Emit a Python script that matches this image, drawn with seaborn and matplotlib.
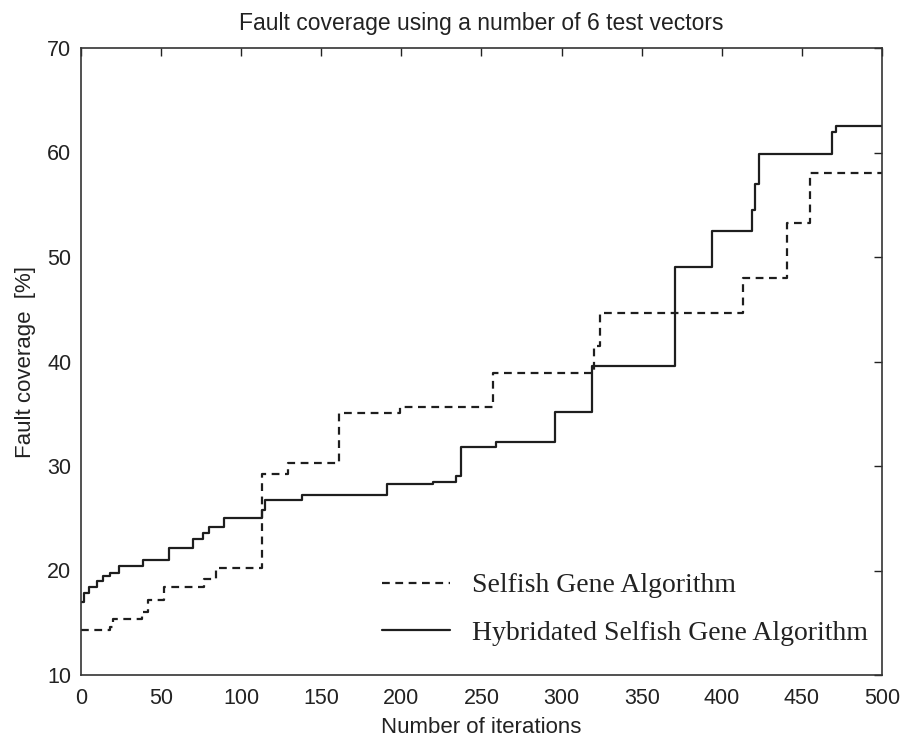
import matplotlib
matplotlib.use("Agg")
import matplotlib.pyplot as plt
import seaborn as sns
import pandas as pd

# Data (step change points)
hybrid_x = [0, 2, 5, 10, 14, 18, 24, 39, 55, 70, 76, 80, 89, 113, 115, 138, 191, 220, 234,
            237, 259, 296, 319, 371, 394, 419, 421, 423, 469, 471, 500]
hybrid_y = [17.0, 17.8, 18.4, 19.0, 19.5, 19.8, 20.4, 21.0, 22.2, 23.0, 23.6, 24.2, 25.0, 25.8,
            26.7, 27.2, 28.3, 28.5, 29.0, 31.8, 32.3, 35.2, 39.6, 49.0, 52.5, 54.5, 57.0, 59.9,
            62.0, 62.5, 62.5]

selfish_x = [0, 18, 20, 38, 42, 52, 77, 84, 113, 129, 161, 199, 257, 320, 324, 413, 441, 455, 500]
selfish_y = [14.3, 14.6, 15.4, 16.0, 17.2, 18.4, 19.2, 20.2, 29.2, 30.3, 35.1, 35.6, 38.9,
             41.5, 44.6, 48.0, 53.3, 58.0, 58.0]

labels = ["Selfish Gene Algorithm", "Hybridated Selfish Gene Algorithm"]
title = "Fault coverage using a number of 6 test vectors"
xlabel = "Number of iterations"
ylabel = "Fault coverage  [%]"
xticks = list(range(0, 501, 50))
yticks = list(range(10, 71, 10))

df = pd.concat([
    pd.DataFrame({"iter": selfish_x, "cov": selfish_y, "alg": labels[0]}),
    pd.DataFrame({"iter": hybrid_x, "cov": hybrid_y, "alg": labels[1]}),
], ignore_index=True)

sns.set_theme(style="white")
plt.rcParams["font.family"] = ["Liberation Sans", "DejaVu Sans"]

fig = plt.figure(figsize=(9.04, 7.40), dpi=100)
ax = fig.add_axes([81 / 904, 1 - 675 / 740, (882 - 81) / 904, (675 - 48) / 740])

sns.lineplot(data=df, x="iter", y="cov", style="alg", style_order=labels,
             dashes={labels[0]: (3.5, 2.5), labels[1]: ""},
             color="#1e1e1e", linewidth=1.6, drawstyle="steps-post",
             estimator=None, sort=True, ax=ax)

ax.set_xlim(0, 500)
ax.set_ylim(10, 70)
ax.set_xticks(xticks)
ax.set_yticks(yticks)
ax.tick_params(direction="in", top=True, right=True, length=6, width=1,
               labelsize=15.5, colors="#222222", pad=7)
ax.tick_params(axis="x", pad=9)
for s in ax.spines.values():
    s.set_visible(True)
    s.set_color("#333333")
    s.set_linewidth(1.2)
ax.set_xlabel(xlabel, fontsize=16, color="#222222", labelpad=6)
ax.set_ylabel(ylabel, fontsize=16, color="#222222", labelpad=8)
ax.set_title(title, fontsize=16.5, color="#222222", pad=13)

handles, labs = ax.get_legend_handles_labels()
hmap = dict(zip(labs, handles))
leg = ax.legend([hmap[l] for l in labels], labels, loc="upper left",
                bbox_to_anchor=(382 / 904, 1 - 573 / 740), bbox_transform=fig.transFigure,
                frameon=False, borderpad=0, borderaxespad=0, handlelength=2.45,
                handletextpad=0.8, labelspacing=0.8,
                prop={"family": ["Liberation Serif", "DejaVu Serif"], "size": 20})
for t in leg.get_texts():
    t.set_color("#222222")

fig.savefig("out.png", dpi=100)
